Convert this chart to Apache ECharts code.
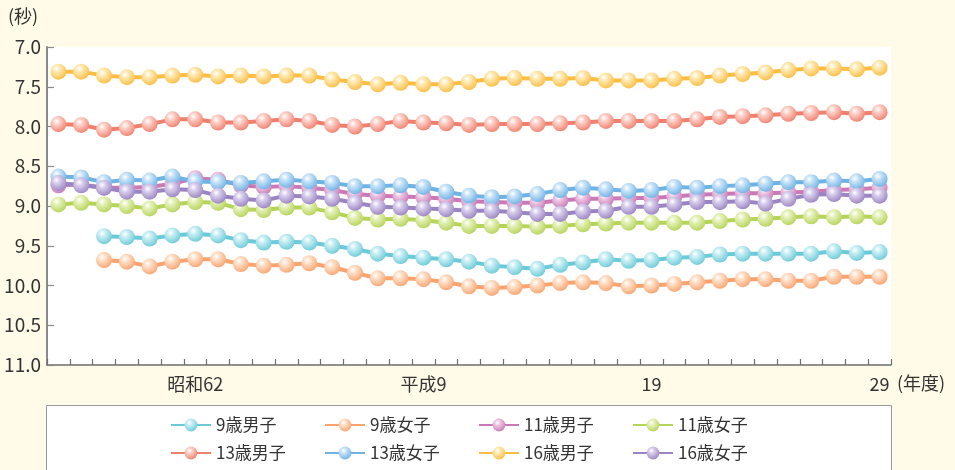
<!DOCTYPE html>
<html>
<head>
<meta charset="utf-8">
<script src="https://cdn.jsdelivr.net/npm/echarts@6/dist/echarts.min.js"></script>
<style>
  html, body { margin: 0; padding: 0; background: #fffbe8; }
  #chart { width: 955px; height: 470px; }
</style>
</head>
<body>
<div id="chart"></div>
<script>
// 年度（昭和56〜平成29）
const years = [
  '昭和56', '昭和57', '昭和58', '昭和59', '昭和60', '昭和61', '昭和62', '昭和63',
  '平成元', '平成2', '平成3', '平成4', '平成5', '平成6', '平成7', '平成8', '平成9',
  '平成10', '平成11', '平成12', '平成13', '平成14', '平成15', '平成16', '平成17',
  '平成18', '平成19', '平成20', '平成21', '平成22', '平成23', '平成24', '平成25',
  '平成26', '平成27', '平成28', '平成29'
];
const tickYears = ['昭和62', '平成9', '平成19', '平成29'];
const tickTexts = ['昭和62', '平成9', '19', '29'];

const yTicks = [7.0, 7.5, 8.0, 8.5, 9.0, 9.5, 10.0, 10.5, 11.0];

const names = ['9歳男子', '9歳女子', '11歳男子', '11歳女子', '13歳男子', '13歳女子', '16歳男子', '16歳女子'];

const boy9 = [null, null, 9.38, 9.39, 9.41, 9.37, 9.35, 9.37, 9.43, 9.46, 9.45, 9.46,
  9.50, 9.54, 9.60, 9.63, 9.65, 9.67, 9.70, 9.75, 9.77, 9.79, 9.74, 9.71, 9.67, 9.69,
  9.68, 9.65, 9.64, 9.61, 9.60, 9.60, 9.60, 9.60, 9.57, 9.59, 9.58];
const girl9 = [null, null, 9.68, 9.70, 9.76, 9.70, 9.67, 9.67, 9.73, 9.75, 9.74,
  9.72, 9.77, 9.84, 9.91, 9.91, 9.92, 9.96, 10.01, 10.03, 10.02, 10.00, 9.97, 9.96, 9.97, 10.01,
  10.00, 9.98, 9.96, 9.94, 9.92, 9.92, 9.94, 9.94, 9.89, 9.89, 9.89];
const boy11 = [8.74, 8.73, 8.77, 8.77, 8.76, 8.72, 8.65, 8.67, 8.74, 8.76, 8.75, 8.77,
  8.80, 8.85, 8.87, 8.88, 8.89, 8.91, 8.94, 8.95, 8.96, 8.96, 8.93, 8.91, 8.91, 8.90,
  8.90, 8.88, 8.86, 8.85, 8.84, 8.84, 8.83, 8.82, 8.80, 8.79, 8.77];
const girl11 = [8.98, 8.96, 8.98, 9.00, 9.03, 8.98, 8.95, 8.96, 9.04, 9.05, 9.02, 9.02,
  9.08, 9.15, 9.17, 9.16, 9.18, 9.21, 9.25, 9.25, 9.25, 9.26, 9.25, 9.23, 9.22, 9.21,
  9.21, 9.21, 9.21, 9.19, 9.17, 9.16, 9.14, 9.13, 9.14, 9.13, 9.14];
const boy13 = [7.97, 7.98, 8.04, 8.02, 7.97, 7.91, 7.91, 7.95, 7.95, 7.93, 7.91, 7.93,
  7.98, 8.00, 7.97, 7.93, 7.95, 7.96, 7.98, 7.97, 7.97, 7.97, 7.96, 7.95, 7.93, 7.93,
  7.93, 7.93, 7.91, 7.88, 7.87, 7.86, 7.84, 7.83, 7.82, 7.84, 7.82];
const girl13 = [8.63, 8.64, 8.70, 8.67, 8.68, 8.63, 8.69, 8.70, 8.71, 8.69, 8.67, 8.69,
  8.71, 8.75, 8.75, 8.74, 8.76, 8.82, 8.87, 8.89, 8.88, 8.85, 8.80, 8.77, 8.79, 8.81,
  8.80, 8.76, 8.77, 8.75, 8.74, 8.72, 8.70, 8.70, 8.68, 8.69, 8.66];
const boy16 = [7.31, 7.31, 7.36, 7.38, 7.38, 7.36, 7.35, 7.37, 7.36, 7.37, 7.36, 7.36,
  7.41, 7.44, 7.47, 7.45, 7.47, 7.47, 7.44, 7.40, 7.39, 7.40, 7.40, 7.39, 7.42, 7.42,
  7.42, 7.40, 7.39, 7.36, 7.34, 7.32, 7.29, 7.27, 7.27, 7.28, 7.26];
const girl16 = [8.71, 8.74, 8.77, 8.82, 8.82, 8.79, 8.80, 8.87, 8.91, 8.93, 8.87, 8.88,
  8.91, 8.96, 9.01, 9.02, 9.03, 9.04, 9.06, 9.06, 9.08, 9.10, 9.10, 9.07, 9.06, 9.01,
  9.01, 8.98, 8.95, 8.95, 8.94, 8.97, 8.91, 8.86, 8.85, 8.87, 8.87];

const values = [boy9, girl9, boy11, girl11, boy13, girl13, boy16, girl16];

// 線の色とボールのハイライト色
const lineColors = ['#6ccad8', '#f9a470', '#c97ab6', '#b6d35a', '#f0806e', '#6fb2e4', '#fbbd42', '#9a85c2'];
const lightColors = ['#c8eef3', '#fde0c8', '#ecc6e3', '#e4f1b8', '#fcd0c8', '#c8e3f7', '#feeab5', '#d8cdeb'];

const FONT = '"Noto Sans CJK JP", "Noto Sans", sans-serif';

function ball(i) {
  return new echarts.graphic.RadialGradient(0.38, 0.32, 0.72, [
    { offset: 0, color: '#ffffff' },
    { offset: 0.3, color: lightColors[i] },
    { offset: 1, color: lineColors[i] }
  ]);
}

const chart = echarts.init(document.getElementById('chart'));

chart.setOption({
  animation: false,
  backgroundColor: '#fffbe8',
  textStyle: { fontFamily: FONT },
  grid: {
    left: 47,
    right: 64,
    top: 47,
    bottom: 105,
    show: true,
    backgroundColor: '#ffffff',
    borderWidth: 0
  },
  graphic: [
    {
      type: 'rect',
      left: 46,
      top: 405,
      shape: { width: 845, height: 80 },
      style: { fill: '#ffffff', stroke: '#9a9a9a', lineWidth: 1 },
      z: -1
    },
    {
      type: 'text',
      left: 8,
      top: 7,
      style: { text: '(秒)', font: '18px ' + FONT, fill: '#333' }
    },
    {
      type: 'text',
      left: 897,
      top: 374,
      style: { text: '(年度)', font: '18px ' + FONT, fill: '#333' }
    }
  ],
  legend: {
    data: names,
    left: 170,
    top: 415,
    width: 640,
    padding: 0,
    itemGap: 8,
    itemWidth: 40,
    itemHeight: 16,
    textStyle: {
      fontFamily: FONT,
      fontSize: 17,
      color: '#333',
      width: 100,
      lineHeight: 20
    }
  },
  xAxis: {
    type: 'category',
    data: years,
    boundaryGap: true,
    axisLine: { lineStyle: { color: '#6e6e6e', width: 1.5 } },
    axisTick: {
      show: true,
      inside: true,
      length: 6,
      interval: 0,
      lineStyle: { color: '#6e6e6e', width: 1.2 }
    },
    axisLabel: {
      interval: function (idx, val) { return tickYears.indexOf(val) >= 0; },
      formatter: function (val) {
        const k = tickYears.indexOf(val);
        return k >= 0 ? tickTexts[k] : '';
      },
      fontFamily: FONT,
      fontSize: 18,
      color: '#333',
      margin: 10
    },
    splitLine: { show: false }
  },
  yAxis: {
    type: 'value',
    inverse: true,
    min: yTicks[0],
    max: yTicks[yTicks.length - 1],
    interval: 0.5,
    axisLine: { show: true, lineStyle: { color: '#8a8a8a', width: 2 } },
    axisTick: { show: true, inside: true, length: 7, lineStyle: { color: '#8a8a8a', width: 1.2 } },
    axisLabel: {
      formatter: function (v) { return v.toFixed(1); },
      fontFamily: FONT,
      fontSize: 19,
      color: '#333',
      margin: 6
    },
    splitLine: { show: false }
  },
  series: names.map(function (name, i) {
    return {
      name: name,
      type: 'line',
      data: values[i],
      symbol: 'circle',
      symbolSize: 16,
      showSymbol: true,
      showAllSymbol: true,
      connectNulls: false,
      lineStyle: { color: lineColors[i], width: 4 },
      itemStyle: { color: ball(i), borderWidth: 0 },
      emphasis: { disabled: true },
      z: 2 + i
    };
  })
});
</script>
</body>
</html>
